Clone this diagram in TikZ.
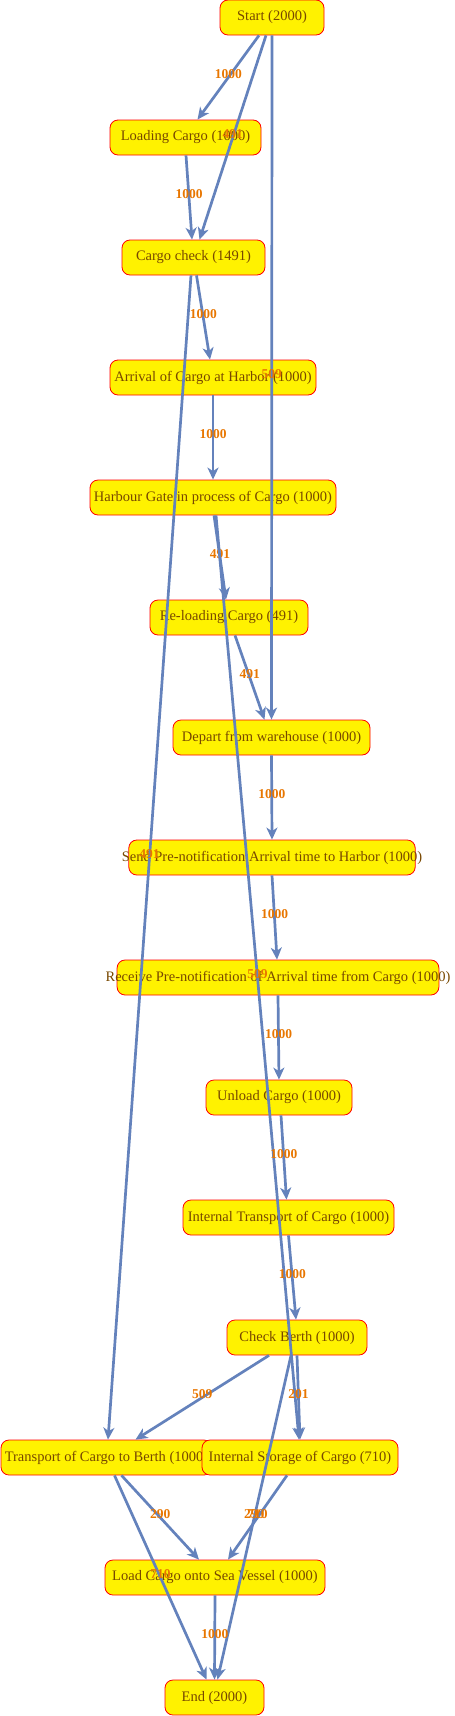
\documentclass[tikz,border=0pt]{standalone}
\usepackage{fontspec}
\setmainfont{Liberation Serif}
\usepackage{tikz}
\usetikzlibrary{arrows.meta}

\definecolor{boxtext}{RGB}{120,72,0}
\definecolor{flowblue}{RGB}{100,130,188}
\definecolor{qtyorange}{RGB}{232,118,0}

\tikzset{
  activity/.style={rectangle, rounded corners=8pt, draw=red, line width=0.8pt,
    fill=yellow, text=boxtext, minimum height=35pt, minimum width=#1,
    inner xsep=0pt, font=\fontsize{14.5pt}{17pt}\selectfont},
  flow/.style={draw=flowblue, line width=2.7pt,
    -{Stealth[length=12pt,width=11pt,inset=3.5pt]}},
  qty/.style={text=qtyorange, inner sep=0pt, yshift=3pt,
    font=\fontsize{13.5pt}{15pt}\selectfont\bfseries}
}

\begin{document}
\begin{tikzpicture}[x=1pt,y=-1pt]
    \useasboundingbox (0,0) rectangle (455,1716);
    % Draw the activities
    \node[activity=104pt] (s) at (272,17.5) {Start (2000)};
    \node[activity=151pt] (lc) at (185.5,137.5) {Loading Cargo (1000)};
    \node[activity=143pt] (cc) at (193.5,257.5) {Cargo check (1491)};
    \node[activity=206pt] (ar) at (213,377.5) {Arrival of Cargo at Harbor (1000)};
    \node[activity=246pt] (hg) at (213,497.5) {Harbour Gate in process of Cargo (1000)};
    \node[activity=158pt] (rl) at (229,617.5) {Re-loading Cargo (491)};
    \node[activity=197pt] (dw) at (271.5,737.5) {Depart from warehouse (1000)};
    \node[activity=0pt,inner xsep=-7pt] (sp) at (272,857.5) {Send Pre-notification Arrival time to Harbor (1000)};
    \node[activity=0pt,inner xsep=-11.5pt] (rp) at (278,977.5) {Receive Pre-notification of Arrival time from Cargo (1000)};
    \node[activity=146pt] (uc) at (279,1097.5) {Unload Cargo (1000)};
    \node[activity=211pt] (it) at (288.5,1217.5) {Internal Transport of Cargo (1000)};
    \node[activity=140pt] (cb) at (297,1337.5) {Check Berth (1000)};
    \node[activity=211pt] (tb) at (106.5,1457.5) {Transport of Cargo to Berth (1000)};
    \node[activity=196pt] (is) at (300,1457.5) {Internal Storage of Cargo (710)};
    \node[activity=220pt] (lv) at (215,1577.5) {Load Cargo onto Sea Vessel (1000)};
    \node[activity=99pt] (en) at (214.5,1697.5) {End (2000)};
    % Draw the flows and label their counts
    \foreach \a/\da/\b/\db/\n in {s/-13/lc/12/1000, s/-6/cc/6/491, s/0/dw/0/509,
      lc/0.5/cc/-1.5/1000, cc/3/ar/-3/1000, cc/-2.5/tb/1.5/491, ar/0/hg/0/1000,
      hg/1/rl/-3/491, hg/3/is/-1/509, rl/6/dw/-7/491, dw/0/sp/0/1000,
      sp/0/rp/-1/1000, rp/0/uc/0/1000, uc/2/it/-2/1000, it/0/cb/-1/1000,
      cb/-28/tb/29/509, cb/0/is/0/201, cb/-6/en/3/290, tb/15/lv/-16/290,
      tb/8/en/-8/710, is/-13/lv/13/710, lv/0/en/0/1000}{
      \draw[flow] ([xshift=\da pt]\a.south) -- node[qty] {\n} ([xshift=\db pt]\b.north);
    }
\end{tikzpicture}
\end{document}
